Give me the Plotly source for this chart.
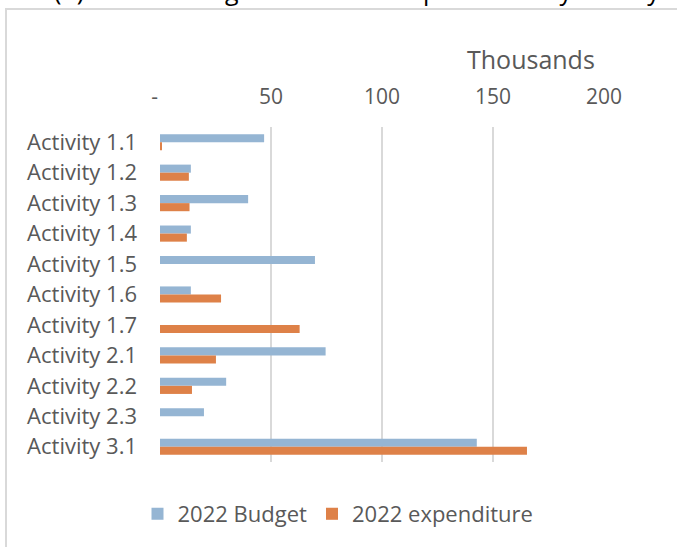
import plotly.graph_objects as go

# Activities (top to bottom) and 2022 amounts, in thousands
activities = ["Activity 1.1", "Activity 1.2", "Activity 1.3", "Activity 1.4",
              "Activity 1.5", "Activity 1.6", "Activity 1.7", "Activity 2.1",
              "Activity 2.2", "Activity 2.3", "Activity 3.1"]
budget_2022 = [46.9, 13.9, 39.7, 13.9, 69.8, 13.9, 0, 74.6, 29.8, 19.8, 142.7]
expenditure_2022 = [0.9, 13.0, 13.3, 12.1, 0, 27.5, 62.9, 25.2, 14.4, 0, 165.3]

tick_values = [0, 50, 100, 150, 200]
tick_labels = ["-\u00a0\u00a0", "50", "100", "150", "200"]

BLUE = "#95B5D3"
ORANGE = "#DE8148"
GREY_TEXT = "#595959"
GRID = "#D9D9D9"
FONT = "Open Sans"

W, H = 677, 547
L, R, T, B = 160, 73, 127, 85
PW, PH = W - L - R, H - T - B


def px(x):
    return (x - L) / PW


def py(y):
    return (H - B - y) / PH


fig = go.Figure()
fig.add_trace(go.Bar(
    y=activities, x=budget_2022, orientation="h", name="2022 Budget",
    marker=dict(color=BLUE, line=dict(width=0)),
))
fig.add_trace(go.Bar(
    y=activities, x=expenditure_2022, orientation="h", name="2022 expenditure",
    marker=dict(color=ORANGE, line=dict(width=0)),
))

fig.update_layout(
    width=W, height=H,
    margin=dict(l=L, r=R, t=T, b=B, pad=0),
    paper_bgcolor="white", plot_bgcolor="white",
    barmode="group", bargap=0.47, bargroupgap=0,
    font=dict(family=FONT, color=GREY_TEXT, size=22),
    showlegend=True,
    legend=dict(
        orientation="h", x=px(338), xanchor="center", y=py(514), yanchor="middle",
        font=dict(size=22, color=GREY_TEXT), itemwidth=30,
        bgcolor="rgba(0,0,0,0)",
    ),
    xaxis=dict(
        side="top", range=[0, 200], tickvals=tick_values, ticktext=tick_labels,
        showgrid=True, gridcolor=GRID, gridwidth=2, zeroline=False,
        showline=False, ticks="", ticklabelstandoff=18,
        tickfont=dict(size=21, color=GREY_TEXT), fixedrange=True,
    ),
    yaxis=dict(
        autorange="reversed", showgrid=False, zeroline=False, showline=False,
        ticks="", ticklabelstandoff=22, tickfont=dict(size=22, color=GREY_TEXT),
    ),
    annotations=[
        dict(text="Thousands", xref="paper", yref="paper", x=px(531), y=py(59),
             xanchor="center", yanchor="middle", showarrow=False,
             font=dict(size=25, color=GREY_TEXT, family=FONT)),
        dict(text="(b) Annual budget and actual expenditure by activity",
             xref="paper", yref="paper", x=px(52), y=py(-10),
             xanchor="left", yanchor="middle", showarrow=False,
             font=dict(size=25, color="black", family=FONT)),
    ],
    shapes=[
        dict(type="path", xref="paper", yref="paper",
             path=f"M {px(6)} {py(H + 20)} L {px(6)} {py(9)} L {px(W + 20)} {py(9)}",
             line=dict(color=GRID, width=2)),
    ],
)

fig.write_html("out.html")
